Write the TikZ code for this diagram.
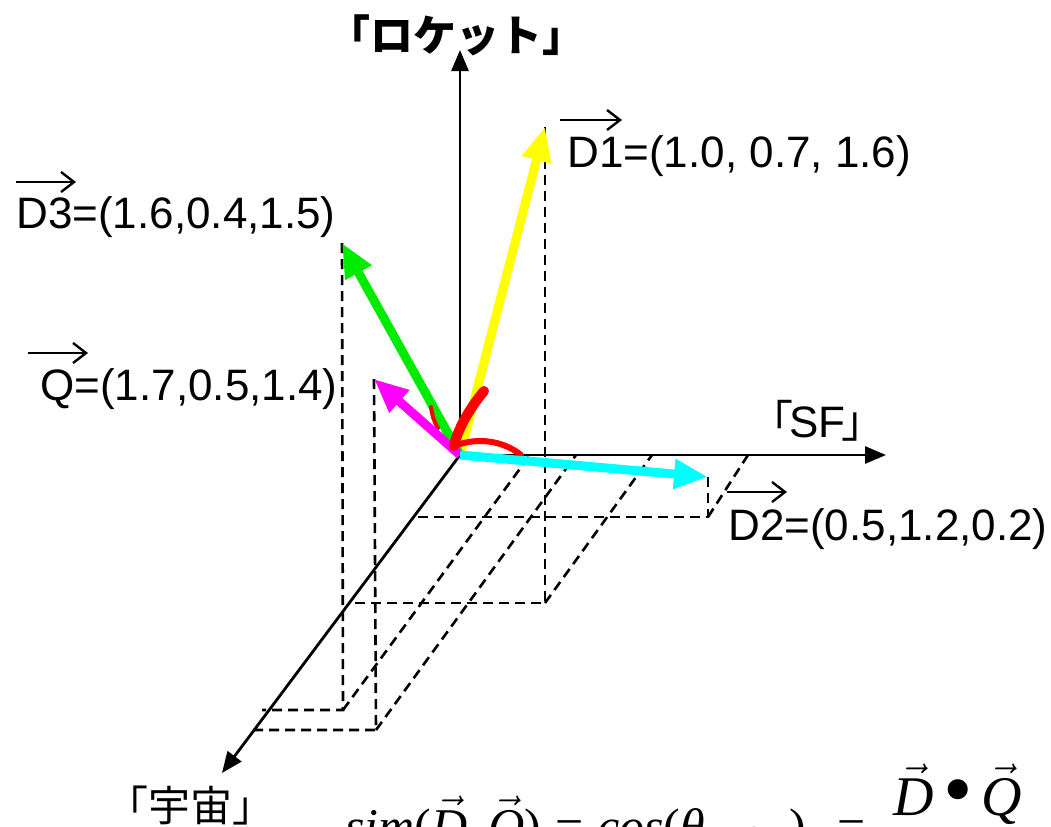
\documentclass[tikz,border=0pt]{standalone}
\usepackage{fontspec}
\usepackage{graphicx}
\setmainfont{Liberation Sans}
\newfontfamily\cjk{Noto Sans CJK JP}
\newfontfamily\tms{Liberation Serif}
\usetikzlibrary{arrows.meta}
\newcommand\vv[1]{$\vec{\hbox{\itshape #1}}$}
\definecolor{vyellow}{RGB}{255,255,0}
\definecolor{vgreen}{RGB}{0,235,0}
\definecolor{vmagenta}{RGB}{255,0,255}
\definecolor{vcyan}{RGB}{0,255,255}
\definecolor{vred}{RGB}{255,0,0}
\tikzset{
  axis/.style={line width=1.4pt,-{Triangle[length=10.5pt,width=8.5pt]}},
  vecarr/.style={line width=4.5pt,-{Triangle[length=17pt,width=14pt]}},
  proj/.style={line width=1.3pt,dash pattern=on 5pt off 3pt},
  lab/.style={inner sep=0pt,font=\fontsize{22}{26}\selectfont},
  ovarrow/.style={line width=1.2pt,-{Straight Barb[length=6.5pt,width=10pt]}},
  fml/.style={inner sep=0pt,font=\tms\fontsize{25}{29}\selectfont},
  angmark/.style={vred,line cap=round}
}
\begin{document}
\begin{tikzpicture}[x=0.5pt,y=-0.5pt]
\useasboundingbox (0,0) rectangle (1051,826);
\clip (0,0) rectangle (1051,826);
% axes points
\coordinate (O) at (460,455);
\coordinate (Up) at (460,50);
\coordinate (SF) at (886,455);
\coordinate (W) at (222,773);
% vector tips
\coordinate (T1) at (545,127);
\coordinate (T2) at (708,477);
\coordinate (T3) at (342,243);
\coordinate (TQ) at (374,379);
% floor points
\coordinate (F1) at (545,603);
\coordinate (F2) at (708,517);
\coordinate (F3) at (343,710);
\coordinate (FQ) at (376,730);
% points on the depth axis
\coordinate (A1) at (348,603);
\coordinate (A2) at (413,517);
\coordinate (A3) at (262,710);
\coordinate (AQ) at (252,730);
% points on the SF axis
\coordinate (S1) at (652,455);
\coordinate (S2) at (748,455);
\coordinate (S3) at (530,455);
\coordinate (SQ) at (576,455);
% projections
\draw[proj] (T1) -- (F1) -- (A1);
\draw[proj] (F1) -- (S1);
\draw[proj] (T2) -- (F2) -- (A2);
\draw[proj] (F2) -- (S2);
\draw[proj] (T3) -- (F3) -- (A3);
\draw[proj] (F3) -- (S3);
\draw[proj] (TQ) -- (FQ) -- (AQ);
\draw[proj] (FQ) -- (SQ);
% axes
\draw[axis] (O) -- (Up);
\draw[axis] (O) -- (SF);
\draw[axis] (O) -- (W);
% vectors
\draw[vecarr,vyellow] (O) -- (T1);
\draw[vecarr,vgreen] (O) -- (T3);
\draw[angmark,line width=2pt] (431,407) .. controls (432,415) and (434,422) .. (438,428);
\draw[vecarr,vmagenta] (O) -- (TQ);
\draw[angmark,line width=5pt] (484,391) .. controls (470,408) and (458,428) .. (454,446);
\draw[angmark,line width=3pt] (454,446) .. controls (480,436) and (505,442) .. (521,455);
\draw[vecarr,vcyan] (O) -- (T2);
% labels
\node[inner sep=0pt,font=\cjk\bfseries\fontsize{21.5}{25}\selectfont] (lr) at (456,35) {「ロケット」};
\node[inner sep=0pt,anchor=base west,font=\fontsize{22}{26}\selectfont] (lsf) at (771,437) {{\cjk ｢}\kern-2pt SF\kern-2pt{\cjk ｣}};
\node[inner sep=0pt,font=\cjk\fontsize{21}{25}\selectfont] (lu) at (190,806) {「宇宙」};
\node[lab,anchor=base west] (l1) at (567,167) {D1=(1.0, 0.7, 1.6)};
\node[lab,anchor=base west] (l3) at (16,228) {D3=(1.6,0.4,1.5)};
\node[lab,anchor=base west] (lq) at (40,400) {Q=(1.7,0.5,1.4)};
\node[lab,anchor=base west] (l2) at (728,540) {D2=(0.5,1.2,0.2)};
\draw[ovarrow] ([shift={(-7,-47)}]l1.base west) -- ++(62,0);
\draw[ovarrow] ([shift={(0,-46)}]l3.base west) -- ++(60,0);
\draw[ovarrow] ([shift={(-12,-47)}]lq.base west) -- ++(60,0);
\draw[ovarrow] ([shift={(-1,-48)}]l2.base west) -- ++(60,0);
% formula (cut by the lower edge)
\node[fml,anchor=base west] (f1) at (345,843) {\textit{sim}(\vv{D},\,\vv{Q})\;=\;\textit{cos}(\textit{θ}\textsubscript{\textit{D,Q}}\hspace{12pt})\hspace{16pt}=};
\node[fml,anchor=base west,font=\tms\fontsize{28}{32}\selectfont] (f2) at (893,815) {\vv{D}\,\raisebox{-1pt}{\scalebox{1.5}{•}}\,\vv{Q}};
\end{tikzpicture}
\end{document}
